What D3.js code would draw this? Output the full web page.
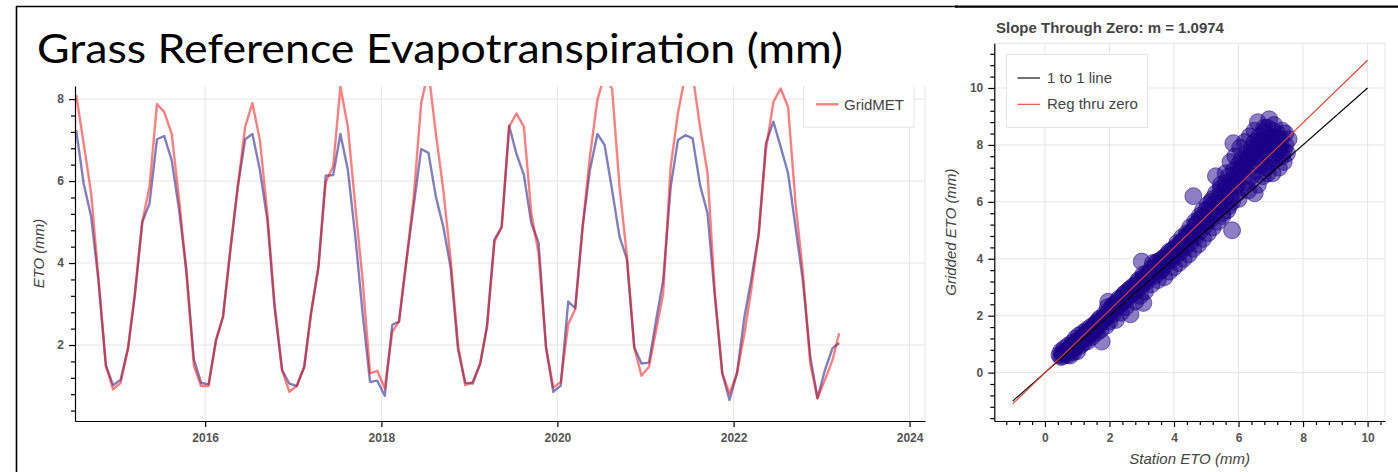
<!DOCTYPE html>
<html>
<head>
<meta charset="utf-8">
<script src="https://cdn.jsdelivr.net/npm/d3@7"></script>
<style>
  html, body { margin: 0; padding: 0; background: #fff; }
  svg { display: block; }
  .tick text { font-family: "Liberation Sans", Arial, sans-serif; font-size: 12px; font-weight: bold; fill: #555; }
</style>
</head>
<body>
<svg id="chart" width="1398" height="472"></svg>
<script>
// ---- Monthly grass reference ET, July 2014 through March 2023 ----
const firstMonth = "2014-07";
const lastMonth = "2023-03";

// Station ETO (mm/day), monthly mean
const stationEto = [
  7.24, 5.94, 5.13, 3.59, 1.50, 1.02, 1.15, 1.92, 3.20, 5.00, 5.45, 7.02,
  7.10, 6.51, 5.29, 3.80, 1.65, 1.08, 1.04, 2.12, 2.69, 4.35, 5.85, 7.02,
  7.15, 6.27, 5.05, 2.90, 1.39, 1.06, 1.00, 1.47, 2.77, 3.91, 6.13, 6.15,
  7.15, 6.27, 4.64, 2.78, 1.10, 1.13, 0.76, 2.49, 2.57, 4.07, 5.40, 6.78,
  6.69, 5.62, 4.88, 3.90, 1.88, 1.08, 1.06, 1.55, 2.45, 4.58, 4.88, 7.35,
  6.67, 6.15, 4.97, 4.50, 1.94, 0.86, 1.01, 3.06, 2.90, 4.90, 6.27, 7.15,
  6.88, 5.78, 4.64, 4.11, 1.94, 1.55, 1.57, 2.65, 3.59, 5.86, 7.00, 7.12,
  7.04, 5.90, 5.21, 3.20, 1.31, 0.66, 1.31, 2.69, 3.59, 4.70, 6.92, 7.45,
  6.84, 6.19, 4.88, 3.59, 1.72, 0.70, 1.39, 1.92, 2.05
];

// GridMET ETO (mm/day), monthly mean
const gridmetEto = [
  8.10, 6.92, 5.70, 3.65, 1.50, 0.92, 1.07, 1.92, 3.25, 5.00, 5.86, 7.88,
  7.69, 7.16, 5.54, 3.80, 1.50, 1.00, 1.00, 2.12, 2.69, 4.35, 5.85, 7.33,
  7.90, 7.00, 5.20, 3.00, 1.39, 0.86, 1.00, 1.47, 2.77, 3.91, 5.98, 6.36,
  8.30, 7.32, 5.37, 3.59, 1.31, 1.37, 0.94, 2.32, 2.57, 4.07, 5.60, 7.90,
  8.70, 7.16, 5.78, 4.10, 2.00, 1.02, 1.10, 1.55, 2.45, 4.52, 4.88, 7.33,
  7.65, 7.33, 5.21, 4.24, 1.94, 0.96, 1.10, 2.51, 2.87, 4.90, 6.60, 7.98,
  8.60, 8.25, 5.86, 4.20, 1.94, 1.25, 1.47, 2.40, 3.26, 6.35, 7.65, 8.60,
  8.60, 7.32, 6.19, 3.30, 1.31, 0.82, 1.31, 2.28, 3.34, 4.70, 6.76, 7.93,
  8.26, 7.81, 5.46, 3.80, 1.55, 0.70, 1.15, 1.63, 2.29
];

const timeTickYears = [2016, 2018, 2020, 2022, 2024];
const timeYTicks = [2, 4, 6, 8];

// ---- Station vs. gridded scatter (daily pairs) ----
const scatterStation = [
  0.45,0.50,0.55,0.60,0.62,0.70,0.72,0.78,0.80,0.85,0.88,0.92,0.95,1.00,1.02,1.05,1.10,1.12,1.18,1.20,
  1.25,1.30,1.32,1.38,1.42,1.45,1.50,1.55,1.60,1.62,1.68,1.72,1.75,1.76,1.85,1.90,1.95,1.96,2.00,2.10,
  2.15,2.20,2.25,2.30,2.35,2.40,2.45,2.50,2.55,2.60,2.65,2.70,2.75,2.80,2.85,2.90,2.95,3.00,3.00,3.05,
  3.05,3.10,3.15,3.25,3.30,3.35,3.40,3.45,3.50,3.50,3.55,
  3.60,3.65,3.70,3.75,3.80,3.85,3.90,3.95,4.00,4.05,4.10,4.15,4.20,4.25,4.30,4.35,4.40,4.45,4.50,4.55,
  4.60,4.60,4.65,4.70,4.75,4.80,4.85,4.90,4.95,5.00,5.05,5.10,5.15,5.20,5.25,5.30,5.30,5.35,5.40,5.45,
  5.50,5.55,5.60,5.65,5.70,5.75,5.80,5.84,5.80,5.85,5.90,5.95,6.00,6.05,6.10,6.15,6.20,6.25,6.30,6.35,
  6.40,6.45,6.50,6.50,6.55,6.60,6.60,6.65,6.70,6.75,6.80,6.80,6.85,6.90,6.95,7.00,7.00,7.05,7.10,7.10,
  7.15,7.20,7.25,7.30,7.35,7.40,7.45,7.50,7.55,
  0.50,0.55,0.65,0.70,0.75,0.82,0.90,0.95,1.00,1.08,1.15,1.22,1.28,1.35,1.40,1.48,1.55,1.60,1.65,1.70,
  1.80,1.85,1.90,2.00,2.05,2.10,2.20,2.25,2.30,2.40,2.45,2.50,2.60,2.65,2.70,2.80,2.85,2.90,3.00,3.05,
  3.10,3.20,3.25,3.30,3.40,3.45,3.50,3.60,3.65,3.70,3.80,3.85,3.90,4.00,4.05,4.10,4.20,4.25,4.30,4.40,
  4.45,4.50,4.60,4.65,4.70,4.80,4.85,4.90,5.00,5.05,5.10,5.20,5.25,5.40,5.45,5.50,5.60,5.65,5.70,5.80,
  5.85,5.90,6.00,6.05,6.10,6.20,6.25,6.30,6.40,6.45,6.50,6.60,6.65,6.70,6.80,6.85,6.90,7.00,7.05,7.10,
  7.20,7.25,7.30,7.40,7.45,6.95,6.55,6.35,6.15,5.95,5.75,5.55,6.70,7.15,7.35,6.90,6.60,6.30,6.00,5.70,
  5.50,1.30,1.70,2.20,2.60,3.00,3.40,3.80,4.20,4.60,5.00,0.95,1.25,1.55,1.95,2.35,2.75,3.15,3.55,3.95
];
const scatterGridded = [
  0.62,0.75,0.58,0.85,0.65,0.72,0.95,0.60,0.85,1.05,0.72,0.95,1.20,0.75,1.05,1.30,0.95,1.15,1.40,1.05,
  1.25,1.50,1.10,1.35,1.60,1.25,1.45,1.70,1.40,1.60,1.85,1.50,1.75,1.09,1.95,1.65,2.30,2.49,1.80,2.05,
  2.40,1.85,2.30,2.60,2.10,2.45,2.75,2.30,2.60,2.90,2.05,2.75,3.05,2.50,2.90,3.20,2.70,3.90,3.05,3.35,
  2.45,2.85,3.20,3.50,3.10,3.85,3.40,3.70,3.25,3.90,3.55,
  3.60,4.00,3.35,3.80,4.15,3.55,3.95,4.30,3.70,4.10,4.45,3.85,4.25,4.60,4.00,4.40,4.80,4.15,4.55,4.95,
  6.20,4.35,4.75,5.20,4.50,4.95,5.45,4.70,5.15,5.70,4.90,5.35,6.00,5.10,5.60,6.30,6.90,5.30,5.85,6.60,
  5.50,6.10,7.00,5.70,6.40,7.40,5.00,8.06,6.00,6.70,7.60,6.30,7.00,7.90,6.50,7.25,8.10,6.70,7.50,8.30,
  6.90,7.70,8.50,6.30,7.10,7.90,8.80,7.30,8.10,6.90,7.60,8.60,7.20,8.00,8.90,7.40,8.30,7.00,7.80,8.70,
  7.50,8.20,7.20,7.90,8.50,7.40,8.00,7.70,8.20,
  0.55,0.70,0.75,0.62,0.82,0.95,0.85,1.00,1.12,1.08,1.25,1.20,1.38,1.45,1.40,1.58,1.55,1.75,1.70,1.90,
  1.85,2.05,1.95,2.20,2.15,2.35,2.30,2.50,2.45,2.65,2.55,2.80,2.70,2.95,2.85,3.05,3.00,3.25,3.20,3.45,
  3.30,3.50,3.40,3.65,3.60,3.85,3.70,3.95,3.80,4.05,4.00,4.25,4.15,4.35,4.30,4.55,4.50,4.75,4.65,4.90,
  4.85,5.10,5.00,5.30,5.25,5.50,5.40,5.70,5.55,5.90,5.75,6.10,5.95,6.20,6.45,6.35,6.65,6.50,6.90,6.75,
  7.10,6.95,7.30,7.15,7.50,7.35,7.70,7.55,7.90,7.75,8.10,7.95,8.30,8.15,8.45,8.00,8.60,8.10,8.50,7.70,
  8.40,7.90,8.20,7.80,8.40,7.60,7.60,7.20,6.90,6.60,6.20,5.90,7.50,8.00,7.60,7.00,6.60,6.40,6.10,5.85,
  5.60,1.30,1.72,2.30,2.75,3.15,3.60,3.95,4.40,4.85,5.30,0.90,1.20,1.60,2.00,2.45,2.85,3.30,3.70,4.10
];
const slopeThroughZero = 1.0974;
const scatterTicks = [0, 2, 4, 6, 8, 10];

// ---- shared helpers ----
const FONT = '"Liberation Sans", Arial, sans-serif';
const svg = d3.select("#chart");

function styleAxis(g) {
  g.select(".domain").attr("stroke", "#000").attr("stroke-width", 1.2);
  g.selectAll(".tick line").attr("stroke", "#000").attr("stroke-width", 1.2);
}
function minorTicks(lo, hi, step, majors) {
  const out = [];
  for (let k = Math.ceil(lo / step); k * step <= hi; k++) {
    const v = +(k * step).toFixed(4);
    if (!majors.some(m => Math.abs(m - v) < 1e-6)) out.push(v);
  }
  return out;
}

// ---- slide frame and heading ----
svg.append("line").attr("x1", 16).attr("y1", 6.5).attr("x2", 958).attr("y2", 6.5)
  .attr("stroke", "#000").attr("stroke-width", 1.5);
svg.append("line").attr("x1", 955).attr("y1", 6.7).attr("x2", 1398).attr("y2", 6.7)
  .attr("stroke", "#000").attr("stroke-width", 2.2);
svg.append("line").attr("x1", 16.5).attr("y1", 6).attr("x2", 16.5).attr("y2", 472)
  .attr("stroke", "#000").attr("stroke-width", 1.6);

svg.append("text")
  .attr("x", 37).attr("y", 63)
  .attr("font-family", 'Lato, "Open Sans", sans-serif')
  .attr("font-size", 41)
  .attr("textLength", 806).attr("lengthAdjust", "spacingAndGlyphs")
  .attr("fill", "#000")
  .text("Grass Reference Evapotranspiration (mm)");

// ---- time series panel ----
const P1 = { left: 75, right: 925, top: 86, bottom: 421 };
const months = d3.timeMonth.range(d3.timeParse("%Y-%m")(firstMonth),
                                  d3.timeMonth.offset(d3.timeParse("%Y-%m")(lastMonth), 1))
  .map(d => d3.timeDay.offset(d, 14));

const x1 = d3.scaleTime()
  .domain([new Date(2014, 6, 10), new Date(2024, 2, 5)])
  .range([P1.left, P1.right]);
const y1 = d3.scaleLinear().domain([0.146, 8.32]).range([P1.bottom, P1.top]);

svg.append("clipPath").attr("id", "clip1").append("rect")
  .attr("x", P1.left).attr("y", P1.top)
  .attr("width", P1.right - P1.left + 2).attr("height", P1.bottom - P1.top);

const g1 = svg.append("g");
const yearDates = timeTickYears.map(y => new Date(y, 0, 1));

// grid
g1.append("g").selectAll("line").data(yearDates).join("line")
  .attr("x1", d => x1(d)).attr("x2", d => x1(d))
  .attr("y1", P1.top).attr("y2", P1.bottom)
  .attr("stroke", "#e5e5e5").attr("stroke-width", 1);
g1.append("g").selectAll("line").data(timeYTicks).join("line")
  .attr("x1", P1.left).attr("x2", P1.right)
  .attr("y1", d => y1(d)).attr("y2", d => y1(d))
  .attr("stroke", "#e5e5e5").attr("stroke-width", 1);
g1.append("line").attr("x1", P1.right).attr("x2", P1.right)
  .attr("y1", P1.top).attr("y2", P1.bottom)
  .attr("stroke", "#e5e5e5");

// series
const plot1 = g1.append("g").attr("clip-path", "url(#clip1)");
const line1 = (vals) => d3.line().x((d, i) => x1(months[i])).y(d => y1(d))(vals);
plot1.append("path").attr("d", line1(stationEto))
  .attr("fill", "none").attr("stroke", "navy").attr("stroke-opacity", 0.5)
  .attr("stroke-width", 2.4).attr("stroke-linejoin", "round");
plot1.append("path").attr("d", line1(gridmetEto))
  .attr("fill", "none").attr("stroke", "red").attr("stroke-opacity", 0.5)
  .attr("stroke-width", 2.4).attr("stroke-linejoin", "round");

// legend (top of box runs past the panel edge)
const leg1 = plot1.append("g");
leg1.append("rect").attr("x", 803.5).attr("y", 60).attr("width", 110.5).attr("height", 67.3)
  .attr("fill", "#fff").attr("fill-opacity", 0.95).attr("stroke", "#e5e5e5");
leg1.append("line").attr("x1", 816).attr("x2", 838.5).attr("y1", 104.3).attr("y2", 104.3)
  .attr("stroke", "red").attr("stroke-opacity", 0.5).attr("stroke-width", 2.4);
leg1.append("text").attr("x", 844).attr("y", 109.5)
  .attr("font-family", FONT).attr("font-size", 15).attr("fill", "#444").text("GridMET");

// axes
const ax1 = g1.append("g").attr("transform", `translate(0,${P1.bottom})`)
  .call(d3.axisBottom(x1).tickValues(yearDates).tickFormat(d3.timeFormat("%Y"))
    .tickSize(6).tickSizeOuter(0).tickPadding(6));
styleAxis(ax1);
const ay1 = g1.append("g").attr("transform", `translate(${P1.left},0)`)
  .call(d3.axisLeft(y1).tickValues(timeYTicks).tickFormat(d3.format("d"))
    .tickSize(6).tickSizeOuter(0).tickPadding(5));
styleAxis(ay1);
const ay1m = g1.append("g").attr("transform", `translate(${P1.left},0)`)
  .call(d3.axisLeft(y1).tickValues(minorTicks(0.146, 8.32, 0.4, timeYTicks))
    .tickFormat("").tickSize(4).tickSizeOuter(0));
ay1m.select(".domain").remove();
ay1m.selectAll(".tick line").attr("stroke", "#000").attr("stroke-width", 1.2);

g1.append("text")
  .attr("transform", `translate(44,${(P1.top + P1.bottom) / 2}) rotate(-90)`)
  .attr("text-anchor", "middle")
  .attr("font-family", FONT).attr("font-size", 15).attr("font-style", "italic")
  .attr("fill", "#444").text("ETO (mm)");

// ---- scatter panel ----
const P2 = { left: 994.3, right: 1385, top: 43.3, bottom: 421 };
const x2 = d3.scaleLinear().domain([-1.57, 10.54]).range([P2.left, P2.right]);
const y2 = d3.scaleLinear().domain([-1.70, 11.57]).range([P2.bottom, P2.top]);

svg.append("clipPath").attr("id", "clip2").append("rect")
  .attr("x", P2.left).attr("y", P2.top)
  .attr("width", P2.right - P2.left).attr("height", P2.bottom - P2.top);

const g2 = svg.append("g");
g2.append("rect").attr("x", P2.left).attr("y", P2.top)
  .attr("width", P2.right - P2.left).attr("height", P2.bottom - P2.top)
  .attr("fill", "none").attr("stroke", "#e5e5e5");
g2.append("g").selectAll("line").data(scatterTicks).join("line")
  .attr("x1", d => x2(d)).attr("x2", d => x2(d))
  .attr("y1", P2.top).attr("y2", P2.bottom)
  .attr("stroke", "#e5e5e5");
g2.append("g").selectAll("line").data(scatterTicks).join("line")
  .attr("x1", P2.left).attr("x2", P2.right)
  .attr("y1", d => y2(d)).attr("y2", d => y2(d))
  .attr("stroke", "#e5e5e5");

const plot2 = g2.append("g").attr("clip-path", "url(#clip2)");
plot2.append("g").selectAll("circle").data(scatterStation).join("circle")
  .attr("cx", d => x2(d))
  .attr("cy", (d, i) => y2(scatterGridded[i]))
  .attr("r", 8.5)
  .attr("fill", "#1a0088").attr("fill-opacity", 0.5)
  .attr("stroke", "#1a0088").attr("stroke-opacity", 0.5).attr("stroke-width", 1);

const lineEnds = [-1, 10];
plot2.append("line")
  .attr("x1", x2(lineEnds[0])).attr("y1", y2(lineEnds[0]))
  .attr("x2", x2(lineEnds[1])).attr("y2", y2(lineEnds[1]))
  .attr("stroke", "#000").attr("stroke-width", 1.1);
plot2.append("line")
  .attr("x1", x2(lineEnds[0])).attr("y1", y2(lineEnds[0] * slopeThroughZero))
  .attr("x2", x2(lineEnds[1])).attr("y2", y2(lineEnds[1] * slopeThroughZero))
  .attr("stroke", "#e8412f").attr("stroke-width", 1.1);

// legend
const leg2 = g2.append("g");
leg2.append("rect").attr("x", 1006.5).attr("y", 54.5).attr("width", 141).attr("height", 73)
  .attr("fill", "#fff").attr("fill-opacity", 0.95).attr("stroke", "#e5e5e5");
leg2.append("line").attr("x1", 1017.5).attr("x2", 1040).attr("y1", 78).attr("y2", 78)
  .attr("stroke", "#000").attr("stroke-width", 1.1);
leg2.append("text").attr("x", 1047).attr("y", 83)
  .attr("font-family", FONT).attr("font-size", 15).attr("fill", "#444").text("1 to 1 line");
leg2.append("line").attr("x1", 1017.5).attr("x2", 1040).attr("y1", 104.3).attr("y2", 104.3)
  .attr("stroke", "#e8412f").attr("stroke-width", 1.1);
leg2.append("text").attr("x", 1047).attr("y", 109.3)
  .attr("font-family", FONT).attr("font-size", 15).attr("fill", "#444").text("Reg thru zero");

// axes
const ax2 = g2.append("g").attr("transform", `translate(0,${P2.bottom})`)
  .call(d3.axisBottom(x2).tickValues(scatterTicks).tickFormat(d3.format("d"))
    .tickSize(6).tickSizeOuter(0).tickPadding(6));
styleAxis(ax2);
const ax2m = g2.append("g").attr("transform", `translate(0,${P2.bottom})`)
  .call(d3.axisBottom(x2).tickValues(minorTicks(-1.57, 10.54, 0.4, scatterTicks))
    .tickFormat("").tickSize(4).tickSizeOuter(0));
ax2m.select(".domain").remove();
ax2m.selectAll(".tick line").attr("stroke", "#000").attr("stroke-width", 1.2);

const ay2 = g2.append("g").attr("transform", `translate(${P2.left},0)`)
  .call(d3.axisLeft(y2).tickValues(scatterTicks).tickFormat(d3.format("d"))
    .tickSize(6).tickSizeOuter(0).tickPadding(5));
styleAxis(ay2);
const ay2m = g2.append("g").attr("transform", `translate(${P2.left},0)`)
  .call(d3.axisLeft(y2).tickValues(minorTicks(-1.70, 11.57, 0.4, scatterTicks))
    .tickFormat("").tickSize(4).tickSizeOuter(0));
ay2m.select(".domain").remove();
ay2m.selectAll(".tick line").attr("stroke", "#000").attr("stroke-width", 1.2);

g2.append("text").attr("x", 996).attr("y", 33)
  .attr("font-family", FONT).attr("font-size", 15).attr("font-weight", "bold")
  .attr("fill", "#444").text(`Slope Through Zero: m = ${slopeThroughZero.toFixed(4)}`);
g2.append("text").attr("x", (P2.left + P2.right) / 2).attr("y", 464)
  .attr("text-anchor", "middle")
  .attr("font-family", FONT).attr("font-size", 15).attr("font-style", "italic")
  .attr("fill", "#444").text("Station ETO (mm)");
g2.append("text")
  .attr("transform", `translate(956,${(P2.top + P2.bottom) / 2}) rotate(-90)`)
  .attr("text-anchor", "middle")
  .attr("font-family", FONT).attr("font-size", 15).attr("font-style", "italic")
  .attr("fill", "#444").text("Gridded ETO (mm)");
</script>
</body>
</html>
